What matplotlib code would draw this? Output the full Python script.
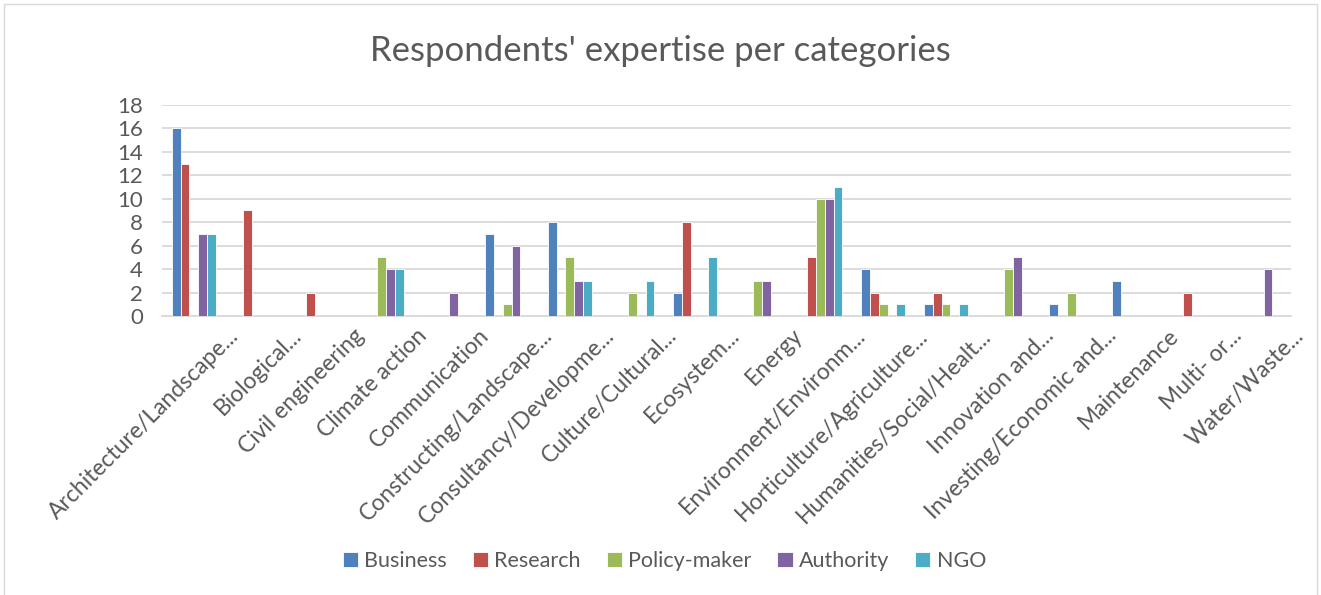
import matplotlib
matplotlib.use("Agg")
import matplotlib.pyplot as plt
import matplotlib.transforms as mtransforms
from matplotlib.patches import Rectangle
import numpy as np

plt.rcParams['font.family'] = ['Lato', 'DejaVu Sans']

categories = [
    "Architecture/Landscape...", "Biological...", "Civil engineering",
    "Climate action", "Communication", "Constructing/Landscape...",
    "Consultancy/Developme...", "Culture/Cultural...", "Ecosystem...",
    "Energy", "Environment/Environm...", "Horticulture/Agriculture...",
    "Humanities/Social/Healt...", "Innovation and...", "Investing/Economic and...",
    "Maintenance", "Multi- or...", "Water/Waste...",
]

business  = [16, 0, 0, 0, 0, 7, 8, 0, 2, 0, 0, 4, 1, 0, 1, 3, 0, 0]
research  = [13, 9, 2, 0, 0, 0, 0, 0, 8, 0, 5, 2, 2, 0, 0, 0, 2, 0]
policy    = [0, 0, 0, 5, 0, 1, 5, 2, 0, 3, 10, 1, 1, 4, 2, 0, 0, 0]
authority = [7, 0, 0, 4, 2, 6, 3, 0, 0, 3, 10, 0, 0, 5, 0, 0, 0, 4]
ngo       = [7, 0, 0, 4, 0, 0, 3, 3, 5, 0, 11, 1, 1, 0, 0, 0, 0, 0]

series = [("Business", business, "#4F81BD"),
          ("Research", research, "#C0504D"),
          ("Policy-maker", policy, "#9BBB59"),
          ("Authority", authority, "#8064A2"),
          ("NGO", ngo, "#4BACC6")]

text_col = "#595959"
grid_col = "#d9d9d9"

fig = plt.figure(figsize=(13.21, 5.95), dpi=100)
ax = fig.add_axes([0.123, 0.469, 0.854, 0.3545])

x = np.arange(len(categories))
w = 0.14
for i, (name, vals, col) in enumerate(series):
    ax.bar(x + (i - 2) * w, vals, width=w, color=col, edgecolor="white",
           linewidth=0.6, label=name, zorder=3)

ax.set_xlim(-0.5, len(categories) - 0.5)
ax.set_ylim(0, 18)
ax.set_yticks(range(0, 19, 2))
ax.yaxis.grid(True, color=grid_col, linewidth=1.3, zorder=0)
for s in ["top", "right", "left"]:
    ax.spines[s].set_visible(False)
ax.spines["bottom"].set_color(grid_col)
ax.spines["bottom"].set_linewidth(1.3)
ax.tick_params(axis="both", length=0, colors=text_col)
ax.tick_params(axis="y", labelsize=16, pad=14)

ax.set_xticks(x)
ax.set_xticklabels(categories, rotation=45, ha="right", rotation_mode="anchor",
                   fontsize=16.5, color=text_col)
offset = mtransforms.ScaledTranslation(34 / 100, -4 / 100, fig.dpi_scale_trans)
for lbl in ax.get_xticklabels():
    lbl.set_transform(lbl.get_transform() + offset)

fig.text(0.5, 0.914, "Respondents' expertise per categories", ha="center",
         va="center", fontsize=25, color=text_col)

fig.legend(loc="center", bbox_to_anchor=(0.503, 0.057), ncol=5, frameon=False,
           fontsize=15.5, handlelength=0.7, handleheight=0.7, handletextpad=0.3,
           columnspacing=1.2, labelcolor=text_col)

fig.patches.append(Rectangle((4 / 1321, -0.01), 1313 / 1321, 1 - 4 / 595 + 0.01,
                             transform=fig.transFigure, fill=False,
                             edgecolor=grid_col, linewidth=1))

fig.savefig("out.png", dpi=100)
